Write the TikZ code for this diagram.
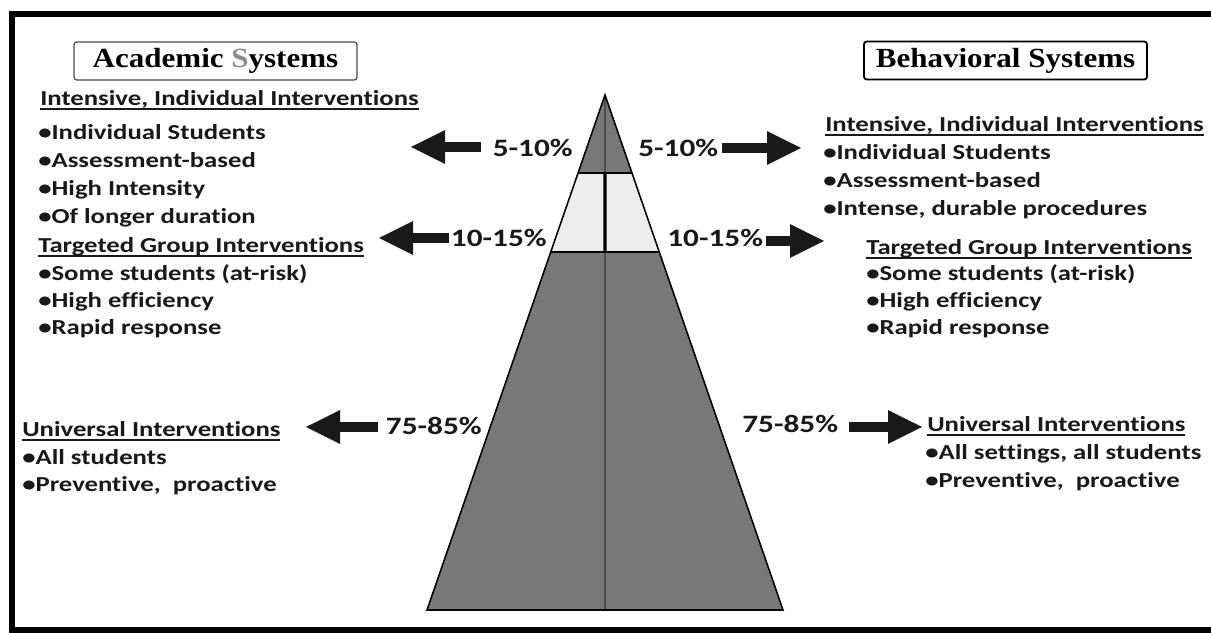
\documentclass[tikz,border=0pt]{standalone}
\usepackage{xcolor}
\usepackage{fontspec}
\usepackage{tikz}
\usetikzlibrary{positioning, arrows.meta, calc}

\newfontfamily\bodyfont{Carlito}[FakeStretch=1.25, Ligatures=NoCommon]
\newfontfamily\headfont{Liberation Serif}[FakeStretch=1.12]

\definecolor{inkgray}{RGB}{25,25,25}
\definecolor{pyrdark}{RGB}{120,120,120}
\definecolor{pyrlight}{RGB}{236,236,236}
\definecolor{sgray}{RGB}{140,140,140}

\newcommand{\hdline}[1]{\sbox0{#1}\rlap{\rule[-2.6pt]{\wd0}{1.3pt}}\usebox0}

\begin{document}
\begin{tikzpicture}[
    x=1cm, y=1cm,
    item/.style={
        font=\bodyfont\bfseries\fontsize{15.2pt}{18pt}\selectfont,
        text=inkgray, inner sep=0pt, anchor=base west,
    },
    hdr/.style={item},
    pct/.style={
        font=\bodyfont\bfseries\fontsize{17.8pt}{20pt}\selectfont,
        text=inkgray, inner sep=0pt,
    },
    sysbox/.style={
        draw=black, rounded corners=2pt, fill=white,
        minimum width=7.075cm, minimum height=0.95cm, inner sep=0pt,
        font=\headfont\bfseries\fontsize{19.7pt}{22pt}\selectfont,
    },
    bigarr/.style={-{Triangle[length=8.75mm, width=7.75mm]}, draw=inkgray, line width=2.5mm},
    frame/.style={draw=black, line width=1.6mm, line join=miter},
    band/.style={draw=black, line width=1.1pt, line join=miter},
]

\useasboundingbox (0,0) rectangle (30.275,15.825);
\fill[white] (0,0) rectangle (30.275,15.825);

% ── Outer frame (open on the right) ──────────────────────────────────
\draw[frame] (30.275,15.475) -- (0.3,15.475) -- (0.3,0.075) -- (30.275,0.075);

% ── Pyramid ──────────────────────────────────────────────────────────
\coordinate (apex) at (15.125, 13.45);
\coordinate (bl)   at (10.675, 0.575);
\coordinate (br)   at (19.575, 0.575);
\coordinate (c1l)  at ($(apex)!0.1515!(bl)$);
\coordinate (c1r)  at ($(apex)!0.1515!(br)$);
\coordinate (c2l)  at ($(apex)!0.3049!(bl)$);
\coordinate (c2r)  at ($(apex)!0.3049!(br)$);

\fill[pyrdark]  (apex) -- (c1r) -- (c1l) -- cycle;
\fill[pyrlight] (c1l) -- (c1r) -- (c2r) -- (c2l) -- cycle;
\fill[pyrdark]  (c2l) -- (c2r) -- (br) -- (bl) -- cycle;

\draw[black!80, line width=0.8pt] (apex) -- ($(c1l)!0.5!(c1r)$);
\draw[black, line width=2.2pt] ($(c1l)!0.5!(c1r)$) -- ($(c2l)!0.5!(c2r)$);
\draw[black!80, line width=1pt] ($(c2l)!0.5!(c2r)$) -- ($(bl)!0.5!(br)$);

\draw[band] (apex) -- (br) -- (bl) -- cycle;
\draw[band] (c1l) -- (c1r);
\draw[band] (c2l) -- (c2r);

% ── Column titles ────────────────────────────────────────────────────
\node[sysbox, draw=black!70, line width=0.9pt] (acad) at (5.3875, 14.3) {Academic {\color{sgray}S}ystems};
\node[sysbox, line width=1.3pt] (behav) at (25.1375, 14.3125) {Behavioral Systems};

% ── Academic side ────────────────────────────────────────────────────
\node[hdr] (ihl) at (1.0, 13.175) {\hdline{Intensive, Individual Interventions}};
\foreach \txt [count=\i] in {Individual Students, Assessment-based, High Intensity, Of longer duration}
    \node[item] (ibl\i) at (0.95, {13.025-0.7*\i}) {\textbullet\txt};

\node[hdr] (thl) at (0.95, 9.5) {\hdline{Targeted Group Interventions}};
\foreach \txt [count=\i] in {Some students (at-risk), High efficiency, Rapid response}
    \node[item] (tbl\i) at (0.95, {9.475-0.675*\i}) {\textbullet\txt};

\node[hdr] (uhl) at (0.55, 4.9) {\hdline{Universal Interventions}};
\foreach \txt [count=\i] in {All students, {Preventive,\ \ proactive}}
    \node[item] (ubl\i) at (0.55, {4.875-0.675*\i}) {\textbullet\txt};

% ── Behavioral side ──────────────────────────────────────────────────
\node[hdr] (ihr) at (20.625, 12.525) {\hdline{Intensive, Individual Interventions}};
\foreach \txt [count=\i] in {Individual Students, Assessment-based, {Intense, durable procedures}}
    \node[item] (ibr\i) at (20.575, {12.525-0.7*\i}) {\textbullet\txt};

\node[hdr] (thr) at (21.65, 9.45) {\hdline{Targeted Group Interventions}};
\foreach \txt [count=\i] in {Some students (at-risk), High efficiency, Rapid response}
    \node[item] (tbr\i) at (21.65, {9.475-0.675*\i}) {\textbullet\txt};

\node[hdr] (uhr) at (23.175, 5.025) {\hdline{Universal Interventions}};
\foreach \txt [count=\i] in {{All settings, all students}, {Preventive,\ \ proactive}}
    \node[item] (ubr\i) at (23.125, {5.025-0.7*\i}) {\textbullet\txt};

% ── Percentages ──────────────────────────────────────────────────────
\node[pct, anchor=base east] (p1l) at (14.325, 11.9) {5-10\%};
\node[pct, anchor=base west] (p1r) at (15.95, 11.9)  {5-10\%};
\node[pct, anchor=base east] (p2l) at (13.675, 9.65) {10-15\%};
\node[pct, anchor=base west] (p2r) at (16.675, 9.65) {10-15\%};
\node[pct, anchor=base east] (p3l) at (12.05, 4.95)  {75-85\%};
\node[pct, anchor=base west] (p3r) at (18.55, 5.0)   {75-85\%};

% arrow tips
\coordinate (t1l) at (10.25, 12.15);
\coordinate (t1r) at (20.05, 12.125);
\coordinate (t2l) at (9.45, 9.875);
\coordinate (t2r) at (20.625, 9.8);
\coordinate (t3l) at (7.625, 5.15);
\coordinate (t3r) at (23.075, 5.15);

% ── Arrows ───────────────────────────────────────────────────────────
\draw[bigarr] ($(t1l -| p1l.west)+(-0.3,0)$)  -- (t1l);
\draw[bigarr] ($(t1r -| p1r.east)+(0.075,0)$) -- (t1r);
\draw[bigarr] ($(t2l -| p2l.west)+(-0.05,0)$) -- (t2l);
\draw[bigarr] ($(t2r -| p2r.east)+(0.075,0)$) -- (t2r);
\draw[bigarr] ($(t3l -| p3l.west)+(-0.2,0)$)  -- (t3l);
\draw[bigarr] ($(t3r -| p3r.east)+(0.275,0)$) -- (t3r);

\end{tikzpicture}
\end{document}
